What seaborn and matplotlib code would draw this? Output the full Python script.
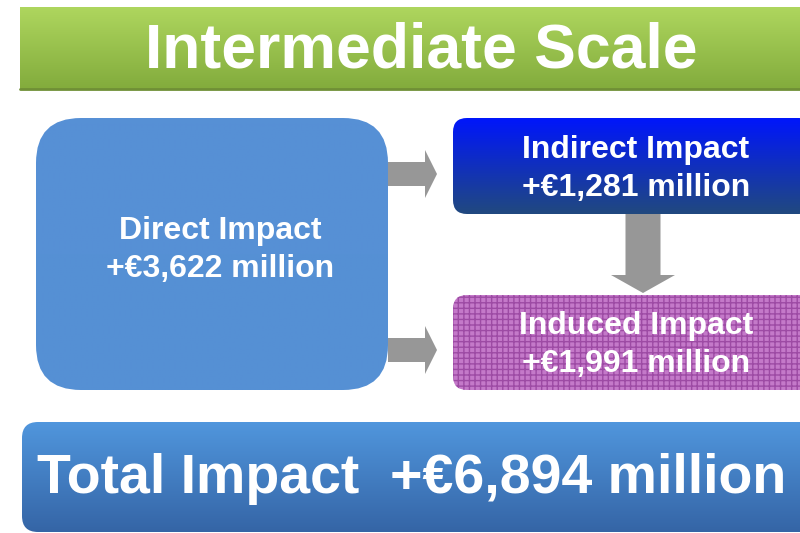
import matplotlib
matplotlib.use("Agg")
import matplotlib.pyplot as plt
import seaborn as sns
import numpy as np
from matplotlib.patches import FancyBboxPatch, FancyArrow

title = "Intermediate Scale"
box_labels = ["Direct Impact", "Indirect Impact", "Induced Impact"]
box_values = [3622, 1281, 1991]
total_label = "Total Impact"
total_value = 6894

sns.set_style("white")
plt.rcParams["font.family"] = ["Liberation Sans", "DejaVu Sans"]


def money(v):
    return f"+\u20ac{v:,} million"


def grad_box(ax, x, y, w, h, r, top, bottom, z=1):
    patch = FancyBboxPatch((x, y), w, h, boxstyle=f"round,pad=0,rounding_size={r}",
                           linewidth=0, facecolor="none", zorder=z)
    ax.add_patch(patch)
    c1 = np.array(matplotlib.colors.to_rgb(top))
    c2 = np.array(matplotlib.colors.to_rgb(bottom))
    t = np.linspace(0, 1, 100)[:, None]
    img = (c1 * (1 - t) + c2 * t)[:, None, :]
    im = ax.imshow(img, extent=(x, x + w, y + h, y), aspect="auto", zorder=z,
                   interpolation="bilinear")
    im.set_clip_path(patch)
    return patch


fig = plt.figure(figsize=(8, 5.33), dpi=100)
ax = fig.add_axes([0, 0, 1, 1])
ax.set_xlim(0, 800)
ax.set_ylim(533, 0)
ax.axis("off")

# title bar
grad_box(ax, 20, 7, 800, 83, 0.1, "#aed65e", "#82ab3c")
ax.plot([20, 820], [89, 89], color="#6f8f36", lw=2, zorder=2)
ax.text(421, 51, title, color="white", fontsize=45, fontweight="bold",
        ha="center", va="center", zorder=3)

box_kw = dict(color="white", fontsize=23, fontweight="bold", ha="center",
              va="center", linespacing=1.35, zorder=3)

# direct impact
grad_box(ax, 36, 118, 352, 272, 45, "#5790d6", "#5590d4")
ax.text(220, 250, box_labels[0] + "\n" + money(box_values[0]), **box_kw)

# indirect impact
grad_box(ax, 453, 118, 360, 96, 14, "#0016fb", "#21497f")
ax.text(636, 169, box_labels[1] + "\n" + money(box_values[1]), **box_kw)

# induced impact
ind = FancyBboxPatch((453, 295), 360, 95, boxstyle="round,pad=0,rounding_size=14",
                     facecolor="#c479c9", edgecolor="#9d4ba4", hatch="+++",
                     linewidth=0, zorder=1)
ax.add_patch(ind)
ax.text(636, 345, box_labels[2] + "\n" + money(box_values[2]), **box_kw)

# arrows
gray = "#979797"
for yc in [174, 350]:
    ax.add_patch(FancyArrow(388, yc, 49, 0, width=24, head_width=48, head_length=12,
                            length_includes_head=True, color=gray, lw=0, zorder=2))
ax.add_patch(FancyArrow(643, 214, 0, 79, width=35, head_width=64, head_length=18,
                        length_includes_head=True, color=gray, lw=0, zorder=2))

# total impact
grad_box(ax, 22, 422, 800, 110, 16, "#5096dd", "#3565a6")
ax.text(412, 479, f"{total_label}  {money(total_value)}", color="white",
        fontsize=40, fontweight="bold", ha="center", va="center", zorder=3)

fig.savefig("out.png", dpi=100)
plt.close(fig)
